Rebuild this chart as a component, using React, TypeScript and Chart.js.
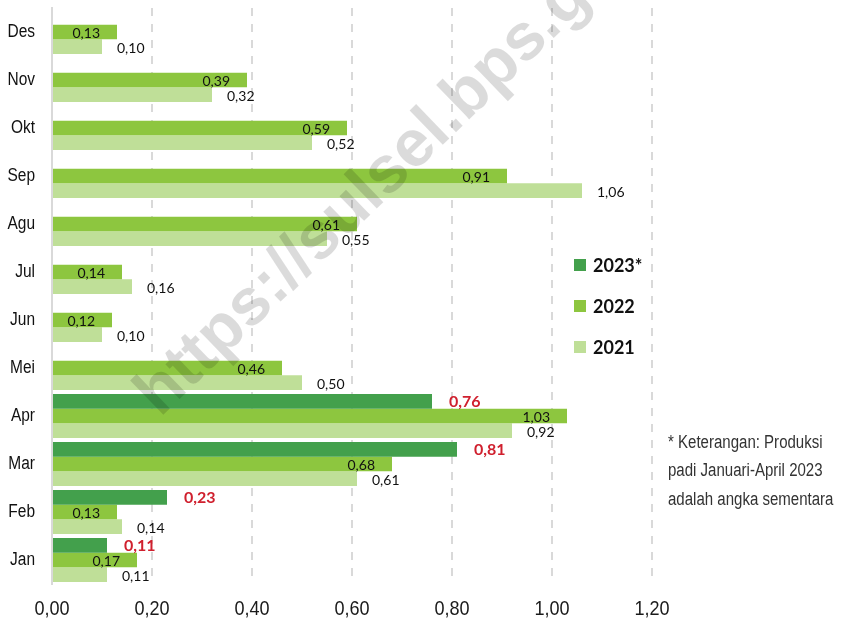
import React, { useEffect, useRef } from "react";
import { Chart, registerables } from "chart.js";

Chart.register(...registerables);

const months = ["Jan", "Feb", "Mar", "Apr", "Mei", "Jun", "Jul", "Agu", "Sep", "Okt", "Nov", "Des"];
const seriesNames = ["2023*", "2022", "2021"];
const values2023 = [0.11, 0.23, 0.81, 0.76, null, null, null, null, null, null, null, null];
const values2022 = [0.17, 0.13, 0.68, 1.03, 0.46, 0.12, 0.14, 0.61, 0.91, 0.59, 0.39, 0.13];
const values2021 = [0.11, 0.14, 0.61, 0.92, 0.5, 0.1, 0.16, 0.55, 1.06, 0.52, 0.32, 0.1];
const xMin = 0;
const xMax = 1.2;
const xStep = 0.2;
const noteLines = ["* Keterangan: Produksi", "padi Januari-April 2023", "adalah angka sementara"];
const watermarkText = "https://sulsel.bps.go.id";

const COLORS = ["#43a04c", "#8dc63f", "#bfdf98"];
const RED = "#d0202e";
const SANS = '"Liberation Sans", Arial, sans-serif';
const LABEL_FONT = 'Lato, "Noto Sans", sans-serif';

const fmt = (v: number) => v.toFixed(2).replace(".", ",");

function narrowText(
  ctx: CanvasRenderingContext2D,
  text: string,
  x: number,
  y: number,
  align: CanvasTextAlign,
  sx: number
) {
  ctx.save();
  ctx.translate(x, y);
  ctx.scale(sx, 1);
  ctx.textAlign = align;
  ctx.textBaseline = "middle";
  ctx.fillText(text, 0, 0);
  ctx.restore();
}

const overlayPlugin = {
  id: "overlay",
  afterDatasetsDraw(chart: any) {
    const ctx = chart.ctx;
    ctx.save();
    chart.data.datasets.forEach((ds: any, di: number) => {
      const meta = chart.getDatasetMeta(di);
      meta.data.forEach((el: any, i: number) => {
        const v = ds.data[i];
        if (v === null || v === undefined) return;
        const x = el.x;
        const y = el.y;
        ctx.textBaseline = "middle";
        if (di === 0) {
          ctx.font = `bold 16px ${LABEL_FONT}`;
          ctx.fillStyle = RED;
          ctx.textAlign = "left";
          ctx.fillText(fmt(v), x + 17, y + 1);
        } else if (di === 1) {
          ctx.font = `14px ${LABEL_FONT}`;
          ctx.fillStyle = "#111";
          ctx.textAlign = "right";
          ctx.fillText(fmt(v), x - 17, y + 1);
        } else {
          ctx.font = `14px ${LABEL_FONT}`;
          ctx.fillStyle = "#111";
          ctx.textAlign = "left";
          ctx.fillText(fmt(v), x + 15, y + 2);
        }
      });
    });
    ctx.restore();
  },
  afterDraw(chart: any) {
    const ctx = chart.ctx;
    ctx.save();
    // axis tick labels (from the library's scales)
    const xs = chart.scales.x;
    ctx.fillStyle = "#1a1a1a";
    ctx.font = `21px ${SANS}`;
    xs.ticks.forEach((t: any, i: number) => {
      narrowText(ctx, fmt(t.value), xs.getPixelForTick(i), 609, "center", 0.86);
    });
    const ys = chart.scales.y;
    ctx.fillStyle = "#111";
    ctx.font = `18px ${SANS}`;
    ys.ticks.forEach((t: any, i: number) => {
      narrowText(ctx, String(ys.getLabelForValue(t.value)), 35, ys.getPixelForTick(i), "right", 0.86);
    });
    // legend
    const legendY = [265, 306, 347];
    seriesNames.forEach((name, i) => {
      ctx.fillStyle = COLORS[i];
      ctx.fillRect(574, legendY[i] - 6, 12, 12);
      ctx.fillStyle = "#111";
      ctx.font = `bold 18px ${LABEL_FONT}`;
      ctx.textAlign = "left";
      ctx.textBaseline = "middle";
      ctx.fillText(name, 593, legendY[i] + 1);
    });
    // note
    ctx.fillStyle = "#333";
    ctx.font = `18px ${SANS}`;
    noteLines.forEach((line, i) => {
      narrowText(ctx, line, 668, 443 + i * 28.5, "left", 0.835);
    });
    // watermark
    ctx.translate(160, 418);
    ctx.rotate((-44 * Math.PI) / 180);
    ctx.font = `bold 66px ${SANS}`;
    ctx.fillStyle = "rgba(0,0,0,0.14)";
    ctx.textAlign = "left";
    ctx.textBaseline = "alphabetic";
    ctx.fillText(watermarkText, 0, 0);
    ctx.restore();
  },
};

export default function App() {
  const ref = useRef<HTMLCanvasElement | null>(null);
  useEffect(() => {
    if (!ref.current) return;
    const chart = new Chart(ref.current, {
      type: "bar",
      data: {
        labels: months,
        datasets: [
          { label: seriesNames[0], data: values2023 as any, backgroundColor: COLORS[0] },
          { label: seriesNames[1], data: values2022, backgroundColor: COLORS[1] },
          { label: seriesNames[2], data: values2021, backgroundColor: COLORS[2] },
        ],
      },
      options: {
        indexAxis: "y",
        animation: false,
        responsive: false,
        maintainAspectRatio: false,
        devicePixelRatio: 1,
        datasets: { bar: { categoryPercentage: 0.92, barPercentage: 1, skipNull: false } },
        layout: { padding: { left: 0, right: 194, top: 8, bottom: 0 } },
        plugins: { legend: { display: false }, tooltip: { enabled: false } },
        scales: {
          y: {
            type: "category",
            reverse: true,
            offset: true,
            grid: { display: false, drawTicks: false },
            border: { display: true, color: "#d9d9d9", width: 2 },
            ticks: { display: false },
            afterFit: (s: any) => {
              s.width = 52;
              s.paddingTop = 0;
              s.paddingBottom = 0;
            },
          },
          x: {
            type: "linear",
            min: xMin,
            max: xMax,
            ticks: {
              display: false,
              stepSize: xStep,
              callback: (v: any) => fmt(Number(v)),
            },
            grid: {
              drawTicks: false,
              lineWidth: 2,
              color: (c: any) => (c.tick && c.tick.value === 0 ? "rgba(0,0,0,0)" : "#d9d9d9"),
            },
            border: { display: false, dash: [8, 8] },
            afterFit: (s: any) => {
              s.height = 37;
              s.paddingLeft = 0;
              s.paddingRight = 0;
            },
          },
        },
      },
      plugins: [overlayPlugin],
    });
    return () => chart.destroy();
  }, []);
  return (
    <div style={{ position: "fixed", left: 0, top: 0, width: 846, height: 621, background: "#fff" }}>
      <canvas ref={ref} width={846} height={621} style={{ width: 846, height: 621, display: "block" }} />
    </div>
  );
}
